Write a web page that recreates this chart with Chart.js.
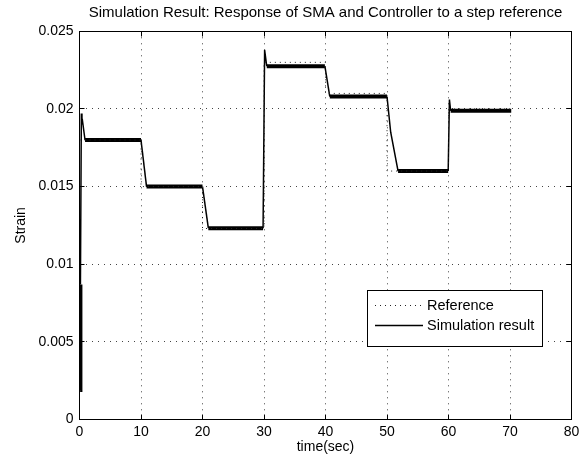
<!DOCTYPE html>
<html>
<head>
<meta charset="utf-8">
<title>Simulation Result</title>
<script src="https://cdn.jsdelivr.net/npm/chart.js@4.4.1/dist/chart.umd.min.js"></script>
<style>
  html, body { margin: 0; padding: 0; background: #fff; }
</style>
</head>
<body>
<canvas id="strainChart" width="584" height="461"></canvas>
<script>
// Reference step signal (time in sec, strain)
const refTime = [0, 10, 20, 30, 40, 50, 60, 70];
const refStrain = [0.018, 0.015, 0.0123, 0.023, 0.021, 0.016, 0.020, 0.020];

// Simulated SMA response
const simTime = [0.1, 0.15, 0.3, 0.4, 0.5, 0.9, 10.0, 10.9, 20.0, 20.95, 29.85, 30.1, 30.45,
  39.9, 40.7, 50.0, 50.6, 51.8, 59.95, 60.15, 60.35, 70.2];
const simStrain = [0.0019, 0.0087, 0.0197, 0.0191, 0.0192, 0.0180, 0.0180, 0.0150, 0.0150, 0.01232, 0.01232, 0.0238, 0.02275,
  0.02275, 0.0208, 0.0208, 0.0185, 0.0160, 0.0160, 0.0206, 0.01988, 0.01988];

// Axis ticks
const xTicks = [0, 10, 20, 30, 40, 50, 60, 70, 80];
const xTickLabels = ['0', '10', '20', '30', '40', '50', '60', '70', '80'];
const yTicks = [0, 0.005, 0.01, 0.015, 0.02, 0.025];
const yTickLabels = ['0', '0.005', '0.01', '0.015', '0.02', '0.025'];

const FONT = '"Liberation Sans", Arial, Helvetica, sans-serif';
Chart.defaults.font.family = FONT;
Chart.defaults.font.size = 14;
Chart.defaults.color = '#000';

// Box around the axes, inward tick marks and the legend (MATLAB look)
const matlabFrame = {
  id: 'matlabFrame',
  afterDraw(chart) {
    const { ctx, chartArea: a, scales: { x, y } } = chart;
    const L = Math.round(a.left - 0.5) + 0.5, R = Math.round(a.right - 0.5) + 0.5;
    const T = Math.round(a.top - 0.5) + 0.5, B = Math.round(a.bottom - 0.5) + 0.5;
    ctx.save();
    ctx.strokeStyle = '#000';
    ctx.lineWidth = 1;
    ctx.setLineDash([]);
    ctx.beginPath();
    xTicks.forEach(v => {
      const px = Math.round(x.getPixelForValue(v) - 0.5) + 0.5;
      ctx.moveTo(px, B); ctx.lineTo(px, B - 5);
      ctx.moveTo(px, T); ctx.lineTo(px, T + 5);
    });
    yTicks.forEach(v => {
      const py = Math.round(y.getPixelForValue(v) - 0.5) + 0.5;
      ctx.moveTo(L, py); ctx.lineTo(L + 5, py);
      ctx.moveTo(R, py); ctx.lineTo(R - 5, py);
    });
    ctx.stroke();
    ctx.strokeRect(L, T, R - L, B - T);

    // legend
    const ds = chart.data.datasets;
    ctx.font = '14.5px ' + FONT;
    const textW = Math.max(...ds.map(d => ctx.measureText(d.label).width));
    const boxR = R - 29, boxB = B - 73;
    const boxW = Math.round(7.5 + 48 + 4 + textW + 8.5), boxH = 56;
    const boxL = boxR - boxW, boxT = boxB - boxH;
    ctx.fillStyle = '#fff';
    ctx.fillRect(boxL, boxT, boxW, boxH);
    ctx.strokeRect(boxL, boxT, boxW, boxH);
    ds.forEach((d, i) => {
      const cy = Math.round(boxT + 14 + i * 20) + 0.5;
      ctx.beginPath();
      ctx.setLineDash(d.borderDash || []);
      ctx.lineWidth = d.borderWidth;
      ctx.strokeStyle = d.borderColor;
      ctx.moveTo(boxL + 7.5, cy);
      ctx.lineTo(boxL + 55.5, cy);
      ctx.stroke();
      ctx.fillStyle = '#000';
      ctx.textBaseline = 'middle';
      ctx.textAlign = 'left';
      ctx.fillText(d.label, boxL + 59.5, cy);
    });
    ctx.restore();
  }
};

const ctx = document.getElementById('strainChart').getContext('2d');
const strainChart = new Chart(ctx, {
  type: 'line',
  data: {
    datasets: [{
      label: 'Reference',
      data: refTime.map((t, i) => ({ x: t, y: refStrain[i] })),
      borderColor: '#222',
      borderWidth: 1,
      borderDash: [1, 4],
      stepped: true,
      pointRadius: 0,
      fill: false
    }, {
      label: 'Simulation result',
      data: simTime.map((t, i) => ({ x: t, y: simStrain[i] })),
      borderColor: '#000',
      borderWidth: 1.5,
      pointRadius: 0,
      tension: 0,
      fill: false,
      segment: {
        // the chattering signal looks thick where it holds a level
        borderWidth: c => (c.p0.parsed.y === c.p1.parsed.y || c.p0DataIndex === 0) ? 4 : 1.5
      }
    }]
  },
  options: {
    responsive: false,
    animation: false,
    layout: { padding: { left: 0, right: 12.5, top: 0, bottom: 0 } },
    plugins: {
      legend: { display: false },
      tooltip: { enabled: false },
      title: {
        display: true,
        fullSize: false,
        text: 'Simulation Result: Response of SMA and Controller to a step reference',
        color: '#000',
        font: { size: 15, weight: 'normal' },
        padding: { top: 4, bottom: 9.3 }
      }
    },
    scales: {
      x: {
        type: 'linear',
        min: 0,
        max: 80,
        afterBuildTicks: s => { s.ticks = xTicks.map(v => ({ value: v })); },
        afterFit: s => { s.height = 41.5; },
        ticks: {
          autoSkip: false,
          maxRotation: 0,
          padding: 4,
          color: '#000',
          callback: v => xTickLabels[xTicks.indexOf(v)]
        },
        grid: { color: '#444', lineWidth: 1, drawTicks: false },
        border: { display: false, dash: [1, 5] },
        title: {
          display: true,
          text: 'time(sec)',
          color: '#000',
          padding: { top: 0, bottom: 5 }
        }
      },
      y: {
        type: 'linear',
        min: 0,
        max: 0.025,
        afterBuildTicks: s => { s.ticks = yTicks.map(v => ({ value: v })); },
        afterFit: s => { s.width = 79.5; },
        ticks: {
          autoSkip: false,
          padding: 6,
          color: '#000',
          callback: v => yTickLabels[yTicks.indexOf(v)]
        },
        grid: { color: '#444', lineWidth: 1, drawTicks: false },
        border: { display: false, dash: [1, 5] },
        title: {
          display: true,
          text: 'Strain',
          color: '#000',
          padding: { top: 13, bottom: 0 }
        }
      }
    }
  },
  plugins: [matlabFrame]
});
</script>
</body>
</html>
